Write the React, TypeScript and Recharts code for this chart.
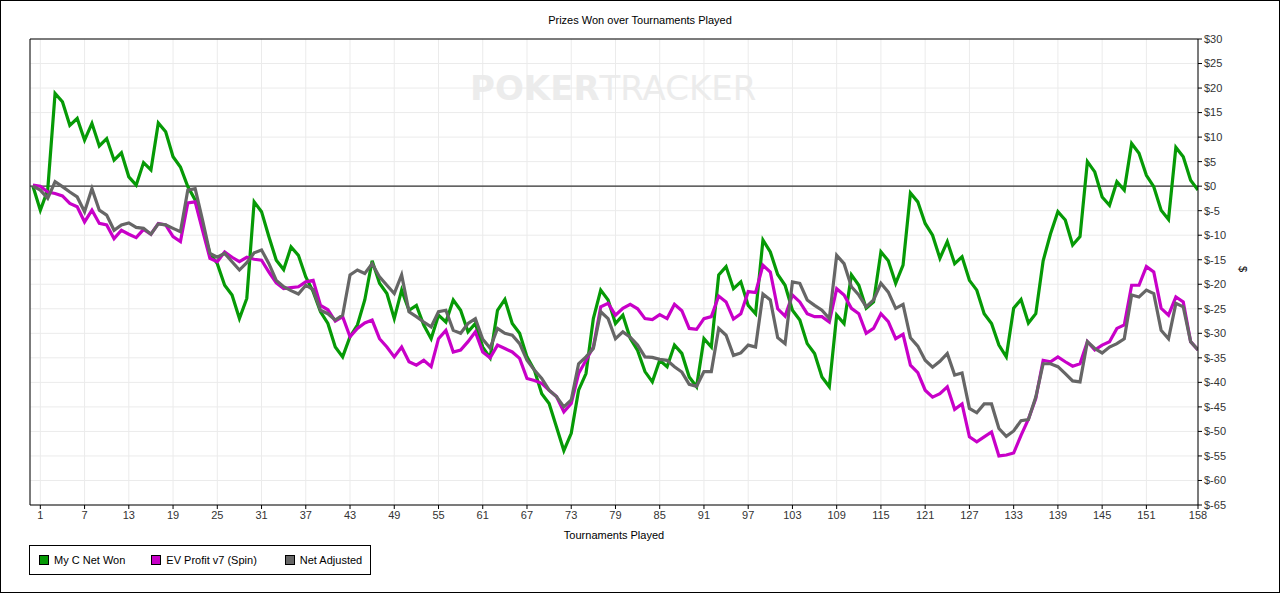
import {
  CartesianGrid,
  Line,
  LineChart,
  ReferenceLine,
  XAxis,
  YAxis,
} from 'recharts';

// values per tournament, index 0 is the starting point
const netWon = [
  0, -4.9, -0.8, 18.9, 17.2, 12.4, 13.8, 9.4, 12.8, 8.2, 9.7, 5.3, 6.8, 1.9, 0.2, 4.8, 3.3, 12.9, 11.1, 6.0,
  3.9, -0.1, -2.8, -8.3, -13.7, -15.8, -20.2, -22.2, -27.0, -22.9, -3.2, -5.2, -10.3, -15.1, -17.0, -12.4, -14.1, -18.5, -21.5, -25.6,
  -28.0, -32.8, -34.8, -30.7, -28.3, -23.2, -15.2, -19.8, -21.9, -27.0, -21.2, -25.3, -24.3, -28.3, -31.1, -26.3, -27.7, -23.2, -25.3, -29.7,
  -28.0, -32.8, -35.0, -25.3, -23.1, -28.0, -30.0, -34.8, -37.5, -42.3, -44.3, -49.1, -53.9, -50.4, -41.6, -38.2, -27.0, -21.2, -23.2, -28.0,
  -26.3, -31.0, -33.5, -37.8, -39.9, -35.5, -36.8, -32.4, -34.1, -38.9, -40.9, -31.1, -32.8, -18.1, -16.4, -20.9, -19.5, -24.3, -26.0, -11.0,
  -13.4, -18.0, -20.2, -25.3, -27.3, -32.1, -34.1, -38.9, -40.9, -26.3, -28.0, -18.1, -20.2, -24.9, -23.6, -13.4, -15.2, -19.8, -16.1, -1.4,
  -3.2, -7.6, -10.0, -14.7, -11.3, -15.8, -14.4, -19.2, -21.2, -26.0, -28.0, -32.4, -34.8, -24.9, -23.1, -27.9, -26.0, -15.2, -9.7, -5.2,
  -6.9, -12.0, -10.3, 5.0, 2.9, -2.2, -3.9, 0.9, -0.8, 8.7, 6.7, 2.2, -0.1, -4.9, -6.8, 7.9, 6.0, 1.2, -0.8,
];

const evProfit = [
  0.2, 0, -1.2, -1.5, -2.0, -3.5, -4.2, -7.3, -4.9, -7.6, -7.9, -10.7, -9.0, -9.8, -10.5, -8.8, -9.8, -7.6, -7.9, -10.3,
  -11.3, -3.4, -3.2, -9.0, -14.7, -15.4, -13.4, -14.5, -15.4, -14.5, -14.9, -15.1, -17.5, -19.7, -20.9, -20.7, -20.5, -19.5, -19.2, -24.3,
  -25.2, -27.5, -26.6, -30.7, -29.0, -27.9, -27.3, -31.1, -32.8, -34.8, -32.8, -35.8, -36.5, -35.5, -36.8, -31.1, -29.4, -33.8, -33.4, -31.7,
  -29.7, -33.8, -35.0, -32.4, -33.1, -33.8, -35.1, -39.2, -39.6, -40.2, -41.6, -42.9, -46.0, -44.3, -38.2, -35.5, -32.8, -24.6, -23.9, -26.3,
  -24.9, -24.1, -25.0, -27.0, -27.2, -26.2, -27.0, -24.1, -25.4, -29.0, -29.2, -27.0, -26.6, -22.4, -23.6, -27.1, -26.0, -21.5, -21.7, -16.1,
  -17.5, -25.0, -26.5, -22.2, -23.6, -26.0, -26.6, -26.6, -27.7, -20.9, -22.2, -24.9, -26.0, -30.0, -29.0, -26.0, -27.6, -31.1, -30.2, -36.5,
  -38.0, -41.6, -43.0, -42.3, -40.9, -45.5, -44.4, -51.1, -52.1, -51.1, -50.1, -55.0, -54.8, -54.4, -50.8, -47.5, -43.3, -35.5, -35.8, -34.8,
  -35.8, -36.7, -36.2, -31.7, -33.4, -32.4, -31.7, -29.0, -28.3, -20.2, -20.2, -16.4, -17.5, -24.9, -26.3, -22.6, -23.6, -31.7, -33.4,
];

const netAdjusted = [
  0, -0.8, -2.5, 0.9, -0.1, -1.2, -2.2, -5.2, -0.5, -4.9, -5.9, -9.0, -7.9, -7.5, -8.4, -8.6, -9.8, -7.7, -7.9, -8.6,
  -9.3, -0.8, -0.5, -6.9, -13.7, -14.5, -13.7, -15.4, -17.1, -15.6, -13.6, -13.0, -15.8, -19.2, -20.5, -21.3, -22.0, -20.2, -21.1, -25.3,
  -26.0, -27.3, -26.3, -18.1, -17.1, -17.8, -15.8, -18.5, -20.2, -21.9, -18.1, -25.6, -26.6, -27.7, -28.7, -25.6, -25.3, -29.4, -30.0, -28.0,
  -27.0, -31.2, -33.0, -29.0, -30.0, -30.4, -32.1, -35.5, -37.5, -39.2, -41.6, -42.9, -45.0, -43.6, -36.2, -34.8, -33.1, -25.6, -27.0, -31.1,
  -29.7, -30.8, -32.4, -34.8, -34.9, -35.3, -35.5, -36.8, -37.9, -40.4, -40.8, -37.8, -37.8, -29.0, -30.4, -34.5, -34.0, -32.4, -32.8, -22.0,
  -23.2, -30.9, -32.1, -19.5, -19.8, -23.2, -24.3, -25.3, -27.0, -14.1, -15.8, -20.5, -22.2, -24.6, -23.2, -19.8, -21.6, -24.9, -24.1, -30.9,
  -32.6, -35.5, -36.9, -35.7, -34.1, -38.5, -38.1, -45.3, -46.2, -44.4, -44.4, -49.4, -51.0, -49.9, -47.8, -47.6, -43.0, -36.2, -36.2, -36.8,
  -38.2, -39.7, -39.9, -31.7, -33.1, -34.0, -32.8, -32.1, -31.1, -22.2, -22.6, -21.2, -21.9, -29.4, -31.1, -23.9, -24.6, -31.7, -33.4,
];

const xTicks = [1, 7, 13, 19, 25, 31, 37, 43, 49, 55, 61, 67, 73, 79, 85, 91, 97, 103, 109, 115, 121, 127, 133, 139, 145, 151, 158];
const yTicks = [30, 25, 20, 15, 10, 5, 0, -5, -10, -15, -20, -25, -30, -35, -40, -45, -50, -55, -60, -65];

const seriesInfo = [
  { key: 'netWon', name: 'My C Net Won', color: '#069a06' },
  { key: 'evProfit', name: 'EV Profit v7 (Spin)', color: '#c800c8' },
  { key: 'netAdjusted', name: 'Net Adjusted', color: '#666666' },
];

const data = netWon.map((v, i) => ({
  t: i,
  netWon: v,
  evProfit: evProfit[i],
  netAdjusted: netAdjusted[i],
}));

const FONT = '"Liberation Sans", Arial, sans-serif';

function ChartLegend() {
  return (
    <div
      style={{
        position: 'absolute',
        left: 28,
        top: 544,
        display: 'flex',
        alignItems: 'center',
        border: '1px solid #000',
        background: '#fff',
        width: 342,
        height: 30,
        boxSizing: 'border-box',
        fontSize: 11,
        color: '#000',
      }}
    >
      {seriesInfo.map((s, i) => (
        <div
          key={s.key}
          style={{ display: 'flex', alignItems: 'center', marginLeft: i === 0 ? 9 : i === 1 ? 26 : 28 }}
        >
          <span
            style={{
              display: 'inline-block',
              width: 8,
              height: 8,
              background: s.color,
              border: '1px solid #000',
              marginRight: 5,
            }}
          />
          {s.name}
        </div>
      ))}
    </div>
  );
}

export default function App() {
  return (
    <div
      style={{
        position: 'absolute',
        left: 0,
        top: 0,
        width: 1280,
        height: 593,
        border: '1px solid #000',
        boxSizing: 'border-box',
        background: '#fff',
        fontFamily: FONT,
        overflow: 'hidden',
      }}
    >
      <div
        style={{
          position: 'absolute',
          left: 0,
          width: 1278,
          top: 13,
          textAlign: 'center',
          fontSize: 11,
          color: '#000',
        }}
      >
        Prizes Won over Tournaments Played
      </div>
      <div
        style={{
          position: 'absolute',
          left: 469,
          top: 67,
          fontSize: 34,
          color: '#ececec',
          fontFamily: '"DejaVu Sans", sans-serif',
        }}
      >
        <span style={{ fontWeight: 'bold' }}>POKER</span>
        <span>TRACKER</span>
      </div>
      <LineChart
        width={1278}
        height={591}
        data={data}
        margin={{ top: 38, right: 0, left: 29, bottom: 51 }}
        style={{ position: 'absolute', left: 0, top: 0 }}
      >
        <CartesianGrid stroke="#ebebeb" strokeWidth={1} />
        <XAxis
          dataKey="t"
          type="number"
          domain={[-0.4, 158]}
          ticks={xTicks}
          interval={0}
          allowDataOverflow
          axisLine={{ stroke: '#000' }}
          tickLine={{ stroke: '#000' }}
          tickSize={4}
          height={36}
          tick={{ fill: '#333', fontSize: 11, fontFamily: FONT }}
          label={{
            value: 'Tournaments Played',
            position: 'insideBottom',
            offset: 2,
            fill: '#000',
            fontSize: 11,
            fontFamily: FONT,
          }}
        />
        <YAxis
          orientation="right"
          type="number"
          domain={[-65, 30]}
          ticks={yTicks}
          interval={0}
          allowDataOverflow
          width={81}
          axisLine={{ stroke: '#000' }}
          tickLine={{ stroke: '#000' }}
          tickSize={4}
          tick={{ fill: '#333', fontSize: 11, fontFamily: FONT }}
          tickFormatter={(v) => `$${v}`}
          label={{
            value: '$',
            angle: 90,
            position: 'insideRight',
            offset: 36,
            fill: '#000',
            fontSize: 11,
            fontFamily: FONT,
          }}
        />
        <ReferenceLine x={-0.4} stroke="#000" />
        <ReferenceLine y={30} stroke="#000" />
        <ReferenceLine y={0} stroke="#333" strokeWidth={1.2} />
        {seriesInfo.map((s) => (
          <Line
            key={s.key}
            type="linear"
            dataKey={s.key}
            name={s.name}
            stroke={s.color}
            strokeWidth={3.2}
            dot={false}
            activeDot={false}
            isAnimationActive={false}
          />
        ))}
      </LineChart>
      <ChartLegend />
    </div>
  );
}
